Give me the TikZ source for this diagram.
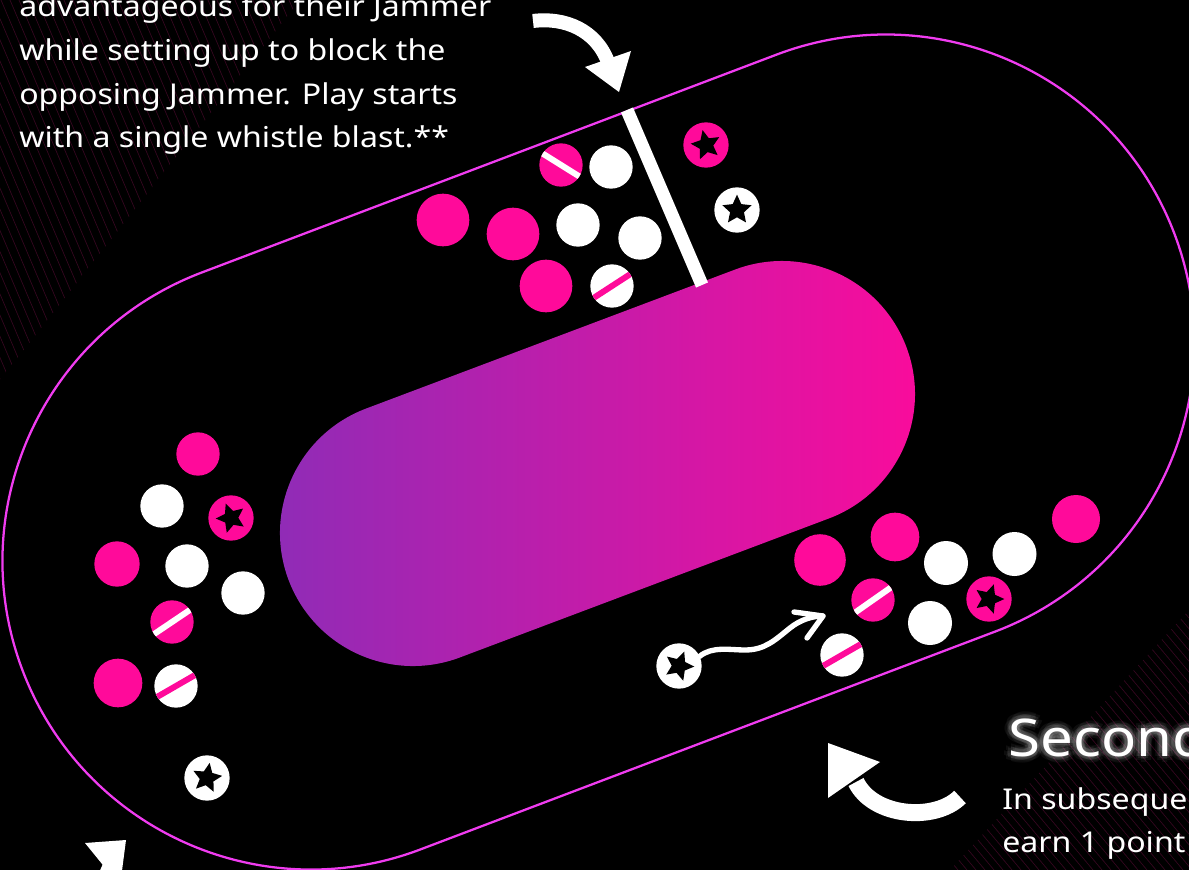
\documentclass[tikz,border=0pt]{standalone}
\usepackage{fontspec}
\setmainfont[FakeStretch=1.12]{Noto Sans}
\usetikzlibrary{shapes.geometric}
\definecolor{pinkc}{HTML}{FF0A9A}
\definecolor{purpc}{HTML}{8A2DB8}
\definecolor{trackc}{HTML}{F03CF0}
\definecolor{stripec}{HTML}{7A1048}
\begin{document}
\begin{tikzpicture}[x=0.75pt,y=-0.75pt,
  pl/.style={circle, inner sep=0pt, outer sep=0pt, minimum size=32.5pt},
  pk/.style={pl, fill=pinkc},
  wh/.style={pl, fill=white},
  midpk/.style={pk, minimum size=36.5pt},
  bigpk/.style={pk, minimum size=39.5pt},
  starc/.style={minimum size=34pt},
  starmark/.style={star, star points=5, star point ratio=2.1, fill=black, inner sep=0pt, outer sep=0pt, minimum size=23pt},
  stripew/.style={path picture={\draw[white, line width=4.5pt] (path picture bounding box.center) +(#1:30pt) -- +(#1:-30pt);}},
  stripep/.style={path picture={\draw[pinkc, line width=4.5pt] (path picture bounding box.center) +(#1:30pt) -- +(#1:-30pt);}},
  track/.style={draw=trackc, line width=1.7pt},
  bigarrow/.style={draw=white, line width=#1},
  headfill/.style={fill=white},
  body/.style={anchor=base west, text=white, font=\fontsize{21.5}{25}\selectfont, inner sep=0pt},
  title/.style={anchor=base west, text=white, font=\fontsize{39}{46}\selectfont, inner sep=0pt},
  stripe/.style={draw=stripec, line width=0.5pt, opacity=0.45}
]
\fill[black] (0,0) rectangle (1189,870);
\useasboundingbox (0,0) rectangle (1189,870);

% faint background stripes
\begin{scope}
  \clip (0,0) -- (300,0) -- (0,380) -- cycle;
  \foreach \i in {0,...,55} {
    \draw[stripe] ({-170+\i*9},0) -- ({-170+\i*9+170},400);
  }
\end{scope}
\begin{scope}
  \clip (1189,610) -- (1189,870) -- (950,870) -- cycle;
  \foreach \i in {0,...,60} {
    \draw[stripe] ({1189+300-\i*9},870) -- ({1189+300-\i*9-300},510);
  }
\end{scope}

% outer track
\begin{scope}[shift={(311,561)}, rotate=20.76]
  \draw[track, rounded corners=231.4pt] (-308.5,-308.5) rectangle (923.4,308.5);
\end{scope}
% inner field
\begin{scope}[shift={(413,533)}, rotate=20.64]
  \shade[left color=purpc, right color=pinkc, rounded corners=99.75pt] (-133,-133) rectangle (527.3,133);
\end{scope}

% start line bar
\coordinate (barA) at (627,110);
\coordinate (barB) at (702,285);
\draw[white, line width=9.75pt] (barA) -- (barB);

% top group
\node[pk, stripew=-32] (t1) at (561,165) {};
\node[wh] (t2) at (611,167) {};
\node[bigpk] (t3) at (443,220) {};
\node[bigpk] (t4) at (513,234) {};
\node[wh] (t5) at (578,225) {};
\node[wh] (t6) at (640,238) {};
\node[bigpk] (t7) at (546,286) {};
\node[wh, stripep=33] (t8) at (612,286) {};
\node[pk, starc] (t9) at (706,145) {};
\node[starmark, rotate=13] (t9s) at (t9) {};
\node[wh, starc] (t10) at (737,210) {};
\node[starmark] (t10s) at (t10) {};

% left group
\node[pk] (l1) at (198,454) {};
\node[wh] (l2) at (162,506) {};
\node[pk, starc] (l3) at (231,518) {};
\node[starmark, rotate=20] (l3s) at (l3) {};
\node[pk, minimum size=34pt] (l4) at (117,564) {};
\node[wh] (l5) at (187,566) {};
\node[wh] (l6) at (243,593) {};
\node[pk, stripew=34] (l7) at (172,622) {};
\node[midpk] (l8) at (118,683) {};
\node[wh, stripep=30] (l9) at (176,686) {};
\node[wh, starc] (l10) at (207,778) {};
\node[starmark, rotate=-10] (l10s) at (l10) {};

% right group
\node[wh, starc] (r1) at (679,666) {};
\node[starmark, rotate=-20] (r1s) at (r1) {};
\node[pk, minimum size=38.7pt] (r2) at (820,560) {};
\node[midpk] (r3) at (895,537) {};
\node[pk, stripew=35] (r4) at (873,600) {};
\node[wh, stripep=30] (r5) at (842,655) {};
\node[wh, minimum size=33pt] (r6) at (930,623) {};
\node[wh, minimum size=33pt] (r7) at (946,563) {};
\node[pk, starc] (r8) at (989,599) {};
\node[starmark, rotate=-18] (r8s) at (r8) {};
\node[wh, minimum size=33pt] (r9) at (1014.5,554) {};
\node[pk, minimum size=36pt] (r10) at (1076,519) {};

% wavy jammer arrow
\coordinate (wt) at (823,616);
\draw[white, line width=4pt, line cap=round] (r1.25) .. controls (712,646) and (730,650) .. (745,650) .. controls (765,650) and (775,640) .. (790,628) .. controls (800,620) and (812,616) .. (wt);
\draw[white, line width=4pt, line cap=round, line join=round] (794,612) -- (wt) -- (807,638);

% big curved arrows
\coordinate (a1s) at (533,21);
\coordinate (a1e) at (608,62);
\draw[bigarrow=10.5pt] (a1s) .. controls (565,17) and (596,30) .. (a1e);
\fill[headfill] (585,67) -- (631,51) -- (619,92) -- cycle;

\coordinate (a2s) at (960,797);
\coordinate (a2e) at (856,782);
\draw[bigarrow=12.75pt] (a2s) .. controls (935,822) and (873,817) .. (a2e);
\fill[headfill] (828,743) -- (880,762) -- (828,798) -- cycle;

\coordinate (a3s) at (95,900);
\coordinate (a3e) at (110,866);
\draw[bigarrow=11pt] (a3s) -- (a3e);
\fill[headfill] (85,843) -- (126,840) -- (120,886) -- cycle;

% texts
\node[body] (tx1) at (19,17) {advantageous for their Jammer};
\node[body] (tx2) at (19,61) {while setting up to block the};
\node[body] (tx3) at (19,104.5) {opposing Jammer. Play starts};
\node[body] (tx4) at (19,148) {with a single whistle blast.**};

\foreach \a in {0,45,...,315} {
  \node[title, text opacity=0.08, shift={(\a:2.5pt)}] (g1\a) at (1008,756) {Second};
  \node[title, text opacity=0.05, shift={(\a:5pt)}] (g2\a) at (1008,756) {Second};
}
\node[title] (tx5) at (1008,756) {Second};
\node[body] (tx6) at (1002,809) {In subseque};
\node[body] (tx7) at (1002,852) {earn 1 point};
\end{tikzpicture}
\end{document}
